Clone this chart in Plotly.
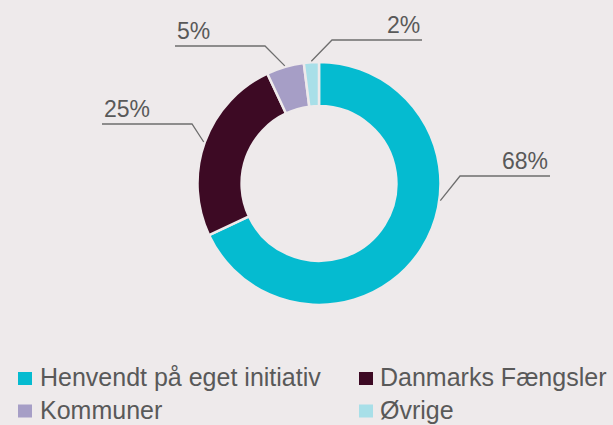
import math
import plotly.graph_objects as go

# ---- data ----
categories = ["Henvendt på eget initiativ", "Danmarks Fængsler", "Kommuner", "Øvrige"]
shares = [68, 25, 5, 2]
label_texts = ["68%", "25%", "5%", "2%"]
colors = ["#05BBD0", "#3D0A24", "#A69EC6", "#A8DFE8"]

# ---- layout constants (pixels) ----
W, H = 613, 425
BG = "#EEEAEB"
TEXT = "#595959"
FONT = "Liberation Sans, Arial, sans-serif"
CX, CY, R = 319, 183.5, 121.5
HOLE = 0.637
# leader-line elbow positions and horizontal run direction per label
elbows = [(460, 176), (192, 124), (265, 46), (332, 40)]
run = [90, -90, -90, 90]
# anchor angle override (degrees clockwise from top), None = slice midpoint
anchor_override = [98, None, None, None]
# legend grid
leg_sq_x = [18, 359]
leg_txt_x = [38, 378]
leg_rows = [377, 409.5]
SQ = 14


def px(x):
    return x / W


def py(y):
    return 1 - y / H


fig = go.Figure(go.Pie(
    labels=categories,
    values=shares,
    sort=False,
    direction="clockwise",
    rotation=0,
    hole=HOLE,
    textinfo="none",
    hoverinfo="label+percent",
    marker=dict(colors=colors, line=dict(color=BG, width=2.5)),
    domain=dict(x=[px(CX - R), px(CX + R)], y=[py(CY + R), py(CY - R)]),
    showlegend=False,
))

shapes = []
annotations = []
total = sum(shares)
cum = 0
for i, v in enumerate(shares):
    a0 = cum / total * 360
    cum += v
    a1 = cum / total * 360
    ang = anchor_override[i] if anchor_override[i] is not None else (a0 + a1) / 2
    t = math.radians(ang)
    ex = CX + (R + 1) * math.sin(t)
    ey = CY - (R + 1) * math.cos(t)
    bx, by = elbows[i]
    endx = bx + run[i]
    path = f"M {px(ex)} {py(ey)} L {px(bx)} {py(by)} L {px(endx)} {py(by)}"
    shapes.append(dict(type="path", xref="paper", yref="paper", path=path,
                       line=dict(color="#6E6E6E", width=1.3)))
    annotations.append(dict(
        x=px(endx), y=py(by - 15), xref="paper", yref="paper",
        text=label_texts[i], showarrow=False,
        xanchor="right" if run[i] > 0 else "left", yanchor="middle",
        font=dict(family=FONT, size=23, color=TEXT),
    ))

# manual legend (2 columns)
for i, name in enumerate(categories):
    col = i % 2
    ly = leg_rows[i // 2]
    sx = leg_sq_x[col]
    shapes.append(dict(type="rect", xref="paper", yref="paper",
                       x0=px(sx), x1=px(sx + SQ), y0=py(ly + 8), y1=py(ly - 5),
                       fillcolor=colors[i], line=dict(width=0)))
    annotations.append(dict(
        x=px(leg_txt_x[col]), y=py(ly), xref="paper", yref="paper",
        text=name, showarrow=False, xanchor="left", yanchor="middle",
        font=dict(family=FONT, size=25, color=TEXT),
    ))

fig.update_layout(
    width=W, height=H,
    margin=dict(l=0, r=0, t=0, b=0),
    paper_bgcolor=BG, plot_bgcolor=BG,
    shapes=shapes, annotations=annotations,
)

fig.write_html(
    "out.html",
    config={"displayModeBar": False},
    post_script="document.body.style.margin='0px';document.body.style.overflow='hidden';document.body.style.background='#EEEAEB';",
)
